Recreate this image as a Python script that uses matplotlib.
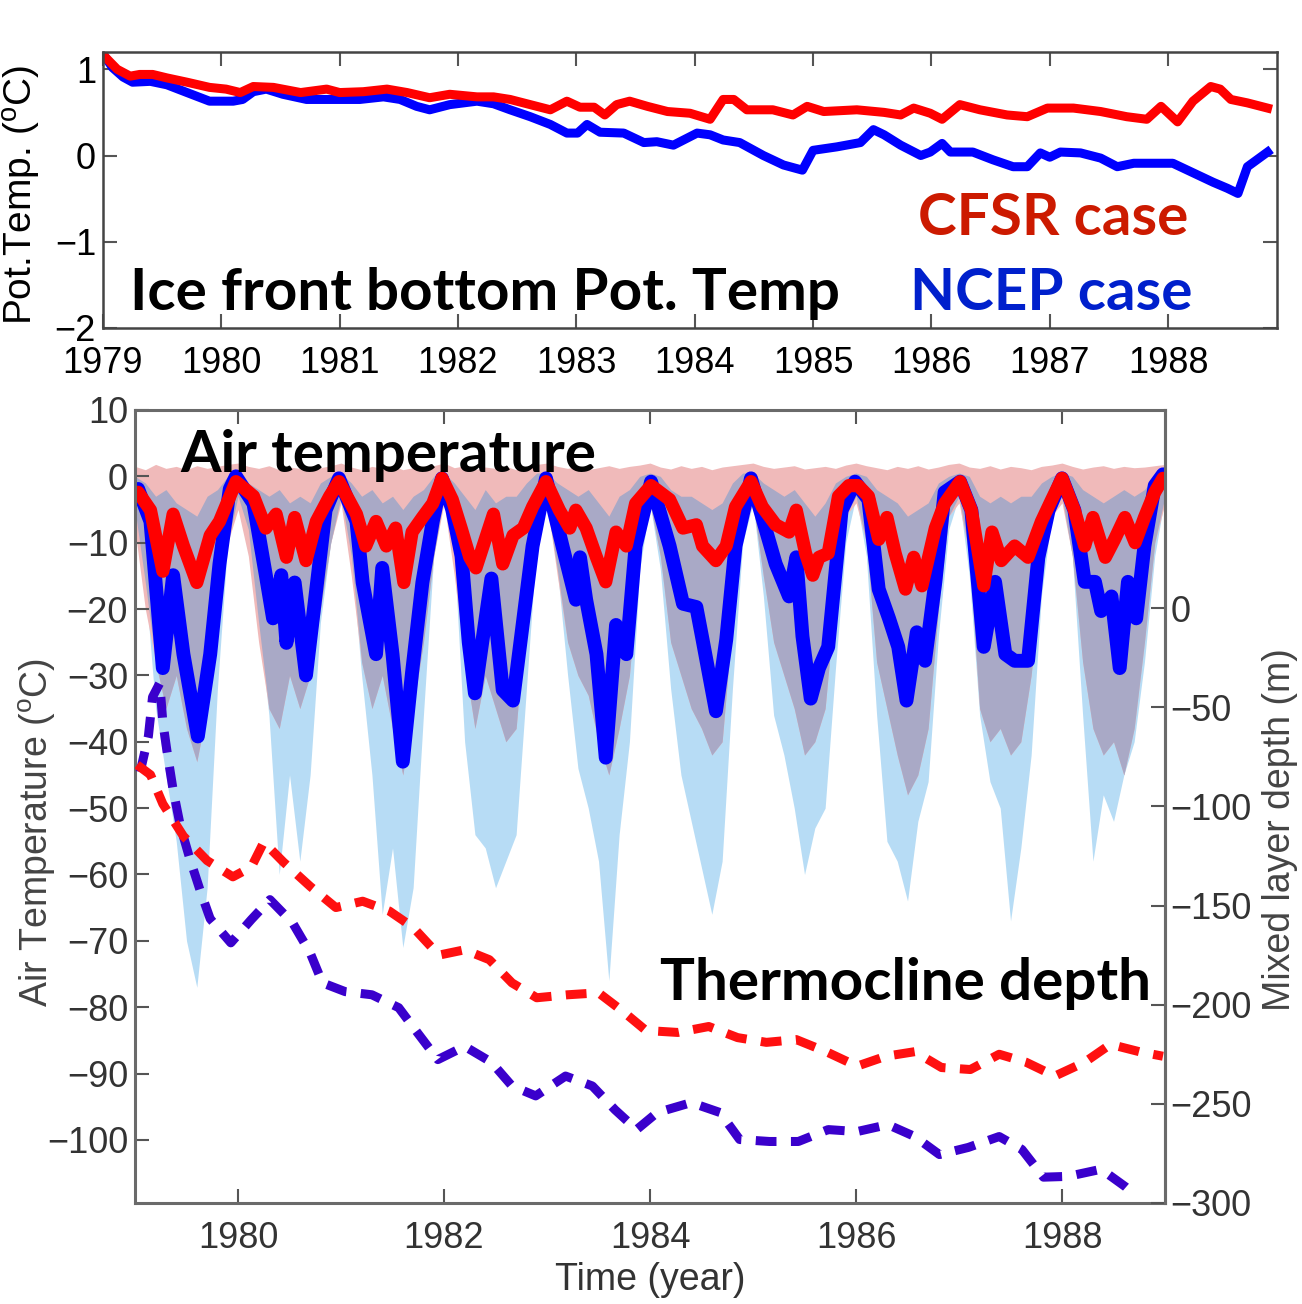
import numpy as np
import matplotlib.pyplot as plt

plt.rcParams['font.family'] = ['Liberation Sans', 'DejaVu Sans']
plt.rcParams['mathtext.fontset'] = 'custom'
plt.rcParams['mathtext.rm'] = 'Liberation Sans'

# ---------------- top panel: ice front bottom potential temperature ----------------
pt_ncep_t = [1979.0, 1979.02, 1979.08, 1979.17, 1979.25, 1979.40, 1979.54, 1979.71, 1979.90,
             1980.10, 1980.18, 1980.27, 1980.38, 1980.52, 1980.72, 1980.94, 1981.17, 1981.37,
             1981.51, 1981.65, 1981.76, 1981.93, 1982.16, 1982.30, 1982.44, 1982.61, 1982.78,
             1982.92, 1983.01, 1983.09, 1983.20, 1983.40, 1983.57, 1983.68, 1983.82, 1984.02,
             1984.13, 1984.24, 1984.38, 1984.58, 1984.75, 1984.91, 1985.00, 1985.20, 1985.40,
             1985.51, 1985.60, 1985.74, 1985.91, 1985.99, 1986.09, 1986.16, 1986.35, 1986.52,
             1986.69, 1986.81, 1986.92, 1987.00, 1987.09, 1987.26, 1987.43, 1987.57, 1987.71,
             1987.88, 1988.04, 1988.21, 1988.38, 1988.50, 1988.59, 1988.67, 1988.75, 1988.84]
pt_ncep = [1.18, 1.14, 1.02, 0.91, 0.85, 0.86, 0.82, 0.73, 0.63,
           0.63, 0.65, 0.74, 0.77, 0.71, 0.65, 0.65, 0.65, 0.68,
           0.65, 0.57, 0.53, 0.59, 0.63, 0.60, 0.53, 0.45, 0.36,
           0.26, 0.26, 0.36, 0.27, 0.26, 0.15, 0.16, 0.12, 0.26,
           0.24, 0.18, 0.15, 0.00, -0.11, -0.17, 0.06, 0.10, 0.15,
           0.30, 0.24, 0.12, 0.00, 0.04, 0.14, 0.04, 0.04, -0.05,
           -0.13, -0.13, 0.03, -0.02, 0.04, 0.03, -0.03, -0.13, -0.09,
           -0.09, -0.09, -0.20, -0.31, -0.38, -0.44, -0.13, -0.05, 0.04]

pt_cfsr_t = [1979.0, 1979.02, 1979.12, 1979.23, 1979.31, 1979.42, 1979.54, 1979.71, 1979.90,
             1980.04, 1980.16, 1980.27, 1980.44, 1980.67, 1980.89, 1981.00, 1981.20, 1981.40,
             1981.57, 1981.76, 1981.93, 1982.16, 1982.30, 1982.44, 1982.61, 1982.78, 1982.92,
             1983.03, 1983.15, 1983.24, 1983.34, 1983.45, 1983.60, 1983.77, 1983.96, 1984.13,
             1984.24, 1984.33, 1984.44, 1984.66, 1984.83, 1984.95, 1985.09, 1985.37, 1985.60,
             1985.74, 1985.85, 1985.99, 1986.09, 1986.24, 1986.41, 1986.64, 1986.81, 1986.98,
             1987.20, 1987.43, 1987.65, 1987.82, 1987.94, 1988.08, 1988.21, 1988.36, 1988.44,
             1988.53, 1988.67, 1988.84]
pt_cfsr = [1.18, 1.14, 1.00, 0.92, 0.94, 0.94, 0.90, 0.85, 0.79,
           0.77, 0.73, 0.80, 0.79, 0.73, 0.77, 0.73, 0.74, 0.77,
           0.73, 0.67, 0.71, 0.68, 0.68, 0.65, 0.59, 0.53, 0.63,
           0.56, 0.56, 0.47, 0.59, 0.63, 0.57, 0.51, 0.49, 0.42,
           0.65, 0.65, 0.53, 0.53, 0.47, 0.57, 0.51, 0.53, 0.50,
           0.47, 0.55, 0.49, 0.42, 0.59, 0.53, 0.47, 0.45, 0.55,
           0.55, 0.51, 0.45, 0.42, 0.57, 0.39, 0.63, 0.80, 0.77,
           0.65, 0.61, 0.55]

# ---------------- bottom panel: air temperature ----------------
# daily spread envelopes, sampled every 0.1 year from 1979.0 to 1989.0
env_t = np.round(np.arange(1979.0, 1989.001, 0.1), 1)
ncep_lo = [-5, -16, -35, -45, -55, -70, -77, -62, -32, -10,
           -3, -8, -22, -36, -60, -45, -58, -45, -22, -10,
           -3, -12, -30, -45, -66, -56, -71, -62, -36, -12,
           -3, -12, -40, -54, -56, -62, -58, -54, -32, -10,
           -4, -14, -30, -44, -50, -58, -76, -54, -40, -14,
           -4, -14, -32, -45, -52, -59, -66, -58, -32, -10,
           -4, -18, -36, -42, -50, -60, -53, -50, -29, -10,
           -3, -12, -36, -55, -58, -64, -52, -46, -24, -8,
           -3, -15, -36, -46, -50, -67, -56, -42, -18, -6,
           -3, -12, -36, -58, -48, -52, -45, -40, -28, -12,
           -3]
ncep_hi = [0, -1, -3, -2, -4, -5, -6, -3, -2, 0,
           0.5, -1, -2, -3, -2, -4, -3, -4, -1, 0,
           0.5, -1, -3, -2, -4, -3, -5, -3, -2, 0,
           0.5, -1, -3, -5, -2, -4, -3, -3, -1, 0.5,
           0.5, -1, -2, -3, -2, -4, -6, -3, -2, 0,
           0.5, 0, -2, -3, -3, -4, -5, -4, -1, 0.5,
           0.5, -1, -2, -3, -2, -4, -6, -4, -1, 0,
           0.5, 0, -2, -3, -4, -6, -5, -4, -1, 0,
           0.5, 0, -3, -4, -3, -4, -3, -3, -1, 0,
           0.5, 0, -2, -3, -4, -3, -2, -3, -2, 0,
           0.5]
cfsr_lo = [-8, -20, -28, -35, -30, -38, -43, -35, -22, -10,
           -5, -12, -25, -35, -38, -30, -35, -30, -20, -10,
           -4, -15, -28, -35, -30, -38, -45, -35, -25, -12,
           -4, -15, -28, -38, -30, -35, -40, -38, -20, -8,
           -4, -15, -25, -30, -33, -40, -45, -38, -30, -12,
           -4, -12, -25, -30, -35, -38, -42, -40, -22, -8,
           -4, -15, -25, -30, -35, -42, -40, -35, -18, -6,
           -4, -10, -28, -35, -42, -48, -45, -38, -20, -6,
           -4, -12, -35, -40, -38, -42, -40, -30, -15, -6,
           -4, -12, -28, -38, -42, -40, -45, -38, -25, -10,
           -4]
cfsr_hi = [1.5, 1.0, 1.8, 1.2, 1.5, 1.0, 1.6, 1.2, 1.5, 1.8,
           2.0, 1.5, 1.2, 1.6, 1.0, 1.4, 1.2, 1.5, 1.3, 1.6,
           2.0, 1.4, 1.0, 1.5, 1.2, 1.6, 1.0, 1.3, 1.5, 1.6,
           2.0, 1.3, 1.6, 1.0, 1.4, 1.2, 1.5, 1.0, 1.4, 1.8,
           2.0, 1.5, 1.2, 1.5, 1.0, 1.3, 1.6, 1.2, 1.5, 1.7,
           2.0, 1.4, 1.1, 1.6, 1.2, 1.5, 1.0, 1.4, 1.6, 1.8,
           2.0, 1.5, 1.2, 1.4, 1.6, 1.1, 1.3, 1.5, 1.2, 1.7,
           2.0, 1.6, 1.3, 1.0, 1.5, 1.2, 1.6, 1.1, 1.4, 1.8,
           2.0, 1.4, 1.2, 1.6, 1.1, 1.5, 1.3, 1.0, 1.5, 1.7,
           2.0, 1.5, 1.1, 1.4, 1.6, 1.2, 1.5, 1.3, 1.4, 1.6,
           1.8]

# smoothed air temperature (thick lines)
ncep_air_t = [1979.03, 1979.15, 1979.27, 1979.37, 1979.47, 1979.61, 1979.73, 1979.82, 1979.92, 1979.98,
              1980.15, 1980.27, 1980.34, 1980.42, 1980.47, 1980.55, 1980.66, 1980.76, 1980.85, 1980.98,
              1981.15, 1981.21, 1981.34, 1981.40, 1981.50, 1981.60, 1981.69, 1981.79, 1981.89, 1981.98,
              1982.08, 1982.17, 1982.24, 1982.30, 1982.38, 1982.46, 1982.57, 1982.67, 1982.86, 1982.99,
              1983.15, 1983.28, 1983.32, 1983.38, 1983.48, 1983.57, 1983.67, 1983.77, 1983.86, 1984.01,
              1984.19, 1984.32, 1984.45, 1984.51, 1984.64, 1984.74, 1984.83, 1984.98,
              1985.09, 1985.22, 1985.35, 1985.42, 1985.48, 1985.56, 1985.64, 1985.73, 1985.86, 1985.99,
              1986.12, 1986.22, 1986.32, 1986.41, 1986.49, 1986.59, 1986.67, 1986.77, 1986.86, 1987.01,
              1987.12, 1987.24, 1987.35, 1987.45, 1987.54, 1987.67, 1987.77, 1987.87, 1988.00,
              1988.12, 1988.22, 1988.32, 1988.38, 1988.48, 1988.56, 1988.64, 1988.72, 1988.80, 1988.90, 1988.98]
ncep_air = [-1.9, -6.8, -28.9, -14.9, -26.8, -39.2, -26.8, -13.2, -1.9, 0.0,
            -4.1, -14.9, -21.4, -14.9, -25.1, -16.0, -30.0, -17.0, -5.1, -0.3,
            -6.8, -16.0, -26.8, -13.8, -26.8, -43.0, -29.5, -16.0, -6.8, -0.3,
            -5.0, -12.0, -25.0, -32.7, -24.0, -15.4, -32.2, -33.8, -10.5, -0.3,
            -10.5, -18.6, -12.2, -18.6, -26.8, -42.4, -22.4, -26.8, -10.5, -0.8,
            -10.5, -19.2, -19.7, -24.6, -35.4, -24.6, -10.5, -0.3,
            -6.2, -13.2, -18.1, -12.2, -24.1, -33.5, -28.9, -25.7, -5.1, -0.8,
            -3.5, -17.0, -21.4, -25.7, -33.8, -23.5, -27.8, -15.9, -2.4, -0.8,
            -5.1, -25.7, -15.9, -26.8, -27.8, -27.8, -12.2, -5.1, -0.3,
            -5.1, -15.9, -15.9, -20.3, -18.1, -28.9, -15.9, -21.4, -10.5, -1.4, 0.3]

cfsr_air_t = [1979.03, 1979.15, 1979.27, 1979.37, 1979.47, 1979.60, 1979.73, 1979.82, 1979.98,
              1980.15, 1980.27, 1980.37, 1980.47, 1980.55, 1980.66, 1980.76, 1980.89, 1980.98,
              1981.15, 1981.24, 1981.34, 1981.44, 1981.53, 1981.61, 1981.69, 1981.79, 1981.89, 1981.98,
              1982.08, 1982.17, 1982.25, 1982.31, 1982.48, 1982.57, 1982.67, 1982.77, 1982.86, 1982.99,
              1983.12, 1983.22, 1983.28, 1983.38, 1983.48, 1983.57, 1983.67, 1983.77, 1983.86, 1984.01,
              1984.19, 1984.32, 1984.45, 1984.51, 1984.64, 1984.74, 1984.83, 1984.98,
              1985.09, 1985.22, 1985.35, 1985.42, 1985.51, 1985.58, 1985.64, 1985.73, 1985.83, 1985.93,
              1986.02, 1986.12, 1986.22, 1986.30, 1986.38, 1986.48, 1986.56, 1986.64, 1986.77, 1986.86,
              1987.01, 1987.12, 1987.24, 1987.32, 1987.41, 1987.54, 1987.67, 1987.80, 1987.90,
              1988.00, 1988.12, 1988.22, 1988.30, 1988.42, 1988.51, 1988.61, 1988.71, 1988.80, 1988.90, 1988.98]
cfsr_air = [-2.4, -5.1, -14.3, -5.7, -10.5, -16.0, -8.9, -6.8, -0.8,
            -3.0, -7.8, -5.7, -12.2, -6.2, -12.7, -6.8, -3.0, -0.8,
            -5.7, -10.5, -6.8, -10.5, -7.8, -16.0, -8.4, -6.2, -4.1, -0.3,
            -3.5, -8.0, -12.2, -13.8, -5.7, -13.2, -8.9, -7.8, -4.6, -0.8,
            -5.1, -7.8, -5.1, -7.8, -12.2, -15.9, -8.4, -10.5, -4.1, -1.4,
            -3.5, -7.8, -7.3, -10.5, -12.7, -10.5, -4.6, -0.8,
            -4.6, -7.3, -8.4, -5.1, -11.6, -14.9, -12.2, -11.6, -3.0, -1.4,
            -1.4, -3.0, -9.5, -6.2, -11.6, -17.0, -12.2, -16.5, -7.8, -4.1,
            -0.8, -5.1, -16.5, -8.4, -12.7, -10.5, -12.2, -6.8, -3.5,
            -0.3, -5.1, -10.5, -6.2, -12.2, -9.5, -6.2, -10.0, -6.2, -2.4, -0.3]

# thermocline (mixed layer) depth, right axis
ncep_mld_t = [1979.05, 1979.13, 1979.17, 1979.24, 1979.27, 1979.31, 1979.37, 1979.44, 1979.53, 1979.63,
              1979.73, 1979.93, 1980.13, 1980.31, 1980.53, 1980.70, 1980.82, 1981.04, 1981.30, 1981.56,
              1981.74, 1981.94, 1982.20, 1982.46, 1982.66, 1982.89, 1983.18, 1983.44, 1983.66, 1983.87,
              1984.07, 1984.40, 1984.68, 1984.87, 1985.16, 1985.44, 1985.73, 1986.01, 1986.31, 1986.57,
              1986.81, 1987.09, 1987.39, 1987.61, 1987.82, 1988.06, 1988.38, 1988.62, 1988.68]
ncep_mld = [-82.6, -64.5, -44.8, -37.8, -57.4, -72.0, -91.7, -109.8, -126.0, -142.0,
            -156.7, -168.8, -157.0, -147.0, -158.7, -173.8, -189.0, -193.4, -195.0, -201.5,
            -214.0, -227.7, -221.0, -229.0, -241.0, -246.0, -236.0, -241.0, -253.0, -263.0,
            -254.4, -249.4, -254.4, -268.0, -269.0, -269.0, -263.0, -264.0, -260.5, -266.5,
            -275.6, -272.0, -266.5, -273.0, -287.0, -286.6, -283.0, -292.0, -294.7]

cfsr_mld_t = [1979.02, 1979.15, 1979.27, 1979.47, 1979.70, 1979.95, 1980.13, 1980.25, 1980.44, 1980.70,
              1980.95, 1981.21, 1981.47, 1981.70, 1981.95, 1982.20, 1982.44, 1982.66, 1982.90, 1983.20,
              1983.50, 1983.74, 1983.96, 1984.27, 1984.57, 1984.85, 1985.13, 1985.42, 1985.71, 1986.01,
              1986.29, 1986.57, 1986.83, 1987.11, 1987.39, 1987.65, 1987.93, 1988.22, 1988.47, 1988.75,
              1988.98]
cfsr_mld = [-79.0, -84.0, -98.7, -115.0, -127.3, -135.5, -130.5, -118.0, -128.0, -140.3,
            -151.0, -147.8, -152.8, -161.0, -175.0, -172.3, -177.3, -189.0, -196.5, -195.0,
            -194.0, -203.5, -213.0, -214.0, -211.0, -216.6, -219.0, -217.6, -223.7, -231.0,
            -226.0, -223.7, -231.7, -232.7, -225.0, -229.0, -236.0, -229.0, -220.0, -223.7,
            -226.0]

top_years = list(range(1979, 1989))
bottom_years = list(range(1980, 1989, 2))
air_ticks = list(range(-100, 11, 10))
mld_ticks = list(range(-300, 1, 50))

RED = '#ff0000'
BLUE = '#0000ff'
PINK = '#f0baba'
GRAY = '#a9a9c6'
SKY = '#9fd1f2'
DASH_BLUE = '#3a00cc'
DASH_RED = '#ff1010'

fig = plt.figure(figsize=(13.02, 13.04), dpi=100)

# ---- top panel ----
axt = fig.add_axes([0.0791, 0.7485, 0.9017, 0.2116])
axt.plot(pt_ncep_t, pt_ncep, color=BLUE, lw=6.5)
axt.plot(pt_cfsr_t, pt_cfsr, color=RED, lw=6.5)
axt.set_xlim(1979, 1988.92)
axt.set_ylim(-2, 1.2)
axt.set_xticks(top_years)
axt.set_xticklabels([str(y) for y in top_years])
axt.set_yticks([-2, -1, 0, 1])
axt.tick_params(direction='in', length=10, width=1.5, labelsize=26, top=True, right=True,
                colors='#555555', labelcolor='black')
axt.tick_params(axis='x', pad=13)
axt.tick_params(axis='y', pad=5)
for sp in axt.spines.values():
    sp.set_color('#444444')
    sp.set_linewidth(1.8)

fig.text(0.0169, 0.8505, r'Pot.Temp. ($^{\rm o}$C)', rotation=90, ha='center', va='center',
         fontsize=28, color='black')

# ---- bottom panel ----
ax = fig.add_axes([0.1037, 0.0775, 0.7911, 0.6081])
ax.fill_between(env_t, ncep_lo, ncep_hi, color=SKY, alpha=0.75, lw=0)
ax.fill_between(env_t, cfsr_lo, cfsr_hi, color=PINK, lw=0)
lo = np.maximum(ncep_lo, cfsr_lo)
hi = np.minimum(ncep_hi, cfsr_hi)
ax.fill_between(env_t, lo, hi, where=hi > lo, interpolate=True, color=GRAY, lw=0)
ax.plot(ncep_air_t, ncep_air, color=BLUE, lw=10, solid_joinstyle='round', solid_capstyle='round')
ax.plot(cfsr_air_t, cfsr_air, color=RED, lw=9.5, solid_joinstyle='round', solid_capstyle='round')
ax.set_xlim(1979, 1989)
ax.set_ylim(-109.5, 10)
ax.set_xticks(bottom_years)
ax.set_xticklabels([str(y) for y in bottom_years])
ax.set_yticks(air_ticks)
ax.tick_params(direction='in', length=10, width=1.5, labelsize=26, top=True, right=False,
               colors='#555555', labelcolor='#333333')
ax.tick_params(axis='x', pad=13)
ax.tick_params(axis='y', pad=5)
for sp in ax.spines.values():
    sp.set_color('#6a6a6a')
    sp.set_linewidth(2.2)

ax2 = ax.twinx()
ax2.plot(ncep_mld_t, ncep_mld, color=DASH_BLUE, lw=6.5, dashes=(2.3, 1.6))
ax2.plot(cfsr_mld_t, cfsr_mld, color=DASH_RED, lw=6.5, dashes=(2.3, 1.6))
ax2.set_ylim(-300, 100)
ax2.set_yticks(mld_ticks)
ax2.tick_params(direction='in', length=10, width=1.5, labelsize=26, pad=4,
                colors='#555555', labelcolor='#333333')
for name, sp in ax2.spines.items():
    sp.set_visible(name == 'right')
    sp.set_color('#6a6a6a')
    sp.set_linewidth(2.2)

fig.text(0.0284, 0.362, r'Air Temperature ($^{\rm o}$C)', rotation=90, ha='center', va='center',
         fontsize=27, color='#444444')
fig.text(0.983, 0.3635, 'Mixed layer depth (m)', rotation=90, ha='center', va='center',
         fontsize=27, color='#444444')
fig.text(0.4992, 0.0184, 'Time (year)', ha='center', va='center', fontsize=27, color='#333333')

# ---- slide annotations ----
note = dict(family=['Lato', 'DejaVu Sans'], fontweight='bold', fontsize=42, ha='left', va='baseline')
fig.text(130 / 1302, 1 - 310 / 1304, 'Ice front bottom Pot. Temp', color='black', **note)
fig.text(918 / 1302, 1 - 235 / 1304, 'CFSR case', color='#cc1a00', **note)
fig.text(910 / 1302, 1 - 310 / 1304, 'NCEP case', color='#0020cc', **note)
fig.text(180 / 1302, 1 - 472 / 1304, 'Air temperature', color='black', **note)
fig.text(660 / 1302, 1 - 1000 / 1304, 'Thermocline depth', color='black', **note)

fig.savefig('out.png', dpi=100)
